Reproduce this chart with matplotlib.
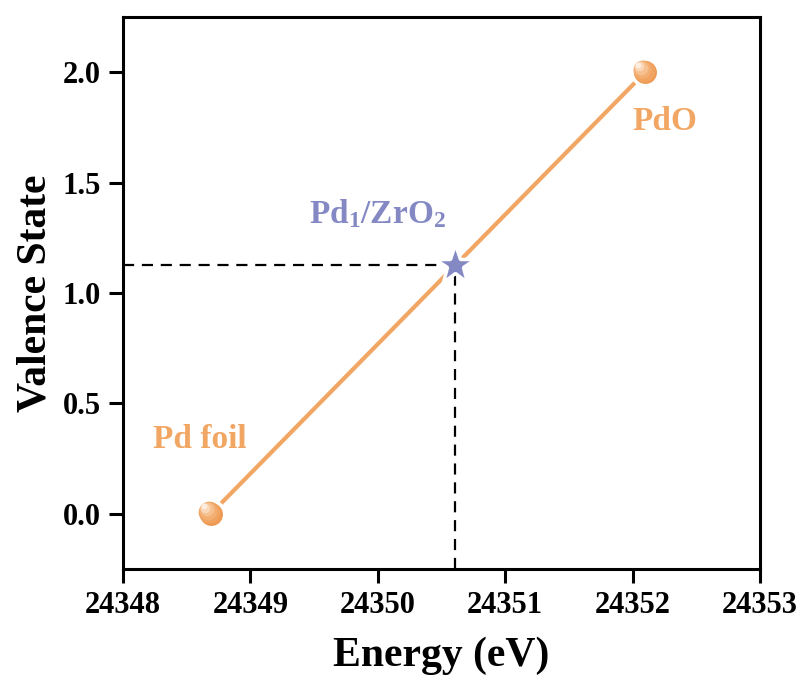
import matplotlib
matplotlib.use('Agg')
import matplotlib.pyplot as plt
from matplotlib.transforms import offset_copy

# reference compounds: energy (eV) vs valence state
refEnergy = [24348.69, 24352.10]
refValence = [0.0, 2.0]
refNames = ['Pd foil', 'PdO']

# sample point
sampleEnergy = 24350.61
sampleValence = 1.125
sampleName = r'Pd$_{1}$/ZrO$_{2}$'

xTicks = [24348, 24349, 24350, 24351, 24352, 24353]
yTicks = [0.0, 0.5, 1.0, 1.5, 2.0]

orange = '#f2a664'
purple = '#8489c4'

plt.rcParams['font.family'] = 'Liberation Serif'
plt.rcParams['font.weight'] = 'bold'
plt.rcParams['mathtext.fontset'] = 'custom'
plt.rcParams['mathtext.rm'] = 'Liberation Serif:bold'
plt.rcParams['mathtext.it'] = 'Liberation Serif:bold'
plt.rcParams['mathtext.bf'] = 'Liberation Serif:bold'

fig = plt.figure(figsize=(8.05, 6.93), dpi=100)
ax = fig.add_axes([0.1528, 0.179, 0.7912, 0.7965])


def draw_sphere(ax, x, y, size):
    # shaded ball: base disc then lighter discs nudged to the upper left
    ax.plot(x, y, 'o', ms=size, color='#ee9a52', mec='white', mew=2.5, zorder=5)
    shades = ['#f1a462', '#f3ae72', '#f6c08f', '#f9d6b6', '#fdeee0']
    for i, c in enumerate(shades):
        s = size * (0.82 - i * 0.15)
        d = size * 0.055 * (i + 1)
        tr = offset_copy(ax.transData, fig=fig, x=-d, y=d, units='points')
        ax.plot(x, y, 'o', ms=s, color=c, mec='none', zorder=6 + i, transform=tr)


# fitted line between the two references
ax.plot(refEnergy, refValence, '-', color=orange, lw=3, zorder=2, solid_capstyle='butt')

# guides from the sample point to the axes
ax.plot([xTicks[0], sampleEnergy], [sampleValence, sampleValence], '--', color='black',
        lw=1.6, dashes=(5, 3.5), zorder=3)
ax.plot([sampleEnergy, sampleEnergy], [-0.25, sampleValence], '--', color='black',
        lw=1.6, dashes=(5, 3.5), zorder=3)

for e, v in zip(refEnergy, refValence):
    draw_sphere(ax, e, v, 19)

ax.plot(sampleEnergy, sampleValence, '*', ms=30, color=purple, mec='white', mew=2.5, zorder=5)

ax.text(24348.6, 0.337, refNames[0], color=orange, fontsize=24, ha='center', va='center')
ax.text(24352.25, 1.777, refNames[1], color=orange, fontsize=24, ha='center', va='center')
ax.text(24350.0, 1.36, sampleName, color=purple, fontsize=24, ha='center', va='center')

ax.set_xlim(24348, 24353)
ax.set_ylim(-0.25, 2.25)
ax.set_xticks(xTicks)
ax.set_yticks(yTicks)
ax.set_xticklabels([str(t) for t in xTicks])
ax.set_yticklabels(['{:.1f}'.format(t) for t in yTicks])
ax.tick_params(direction='out', length=10, width=2.2, labelsize=22, pad=6)

for sp in ax.spines.values():
    sp.set_linewidth(2.2)

ax.set_xlabel('Energy (eV)', fontsize=30, fontweight='bold', labelpad=12)
ax.set_ylabel('Valence State', fontsize=30, fontweight='bold', labelpad=6)

fig.savefig('out.png', dpi=100)
